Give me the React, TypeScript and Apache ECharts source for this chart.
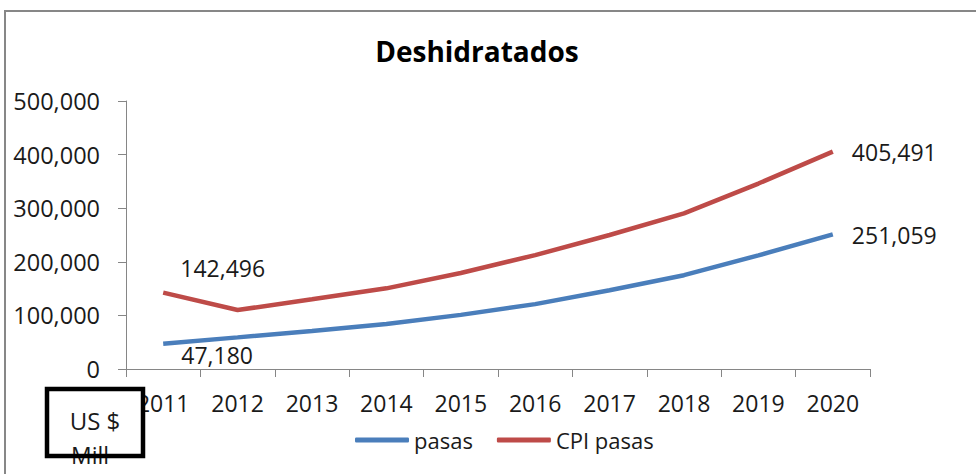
import React, { useEffect, useRef } from "react";
import * as echarts from "echarts";

const years = ["2011", "2012", "2013", "2014", "2015", "2016", "2017", "2018", "2019", "2020"];
const pasas = [47180, 59000, 71000, 84000, 101000, 121000, 147000, 175000, 212000, 251059];
const cpiPasas = [142496, 110000, 130000, 150500, 179000, 212500, 250000, 290500, 346000, 405491];
const yTicks = { min: 0, max: 500000, interval: 100000 };

const FONT = "'Open Sans', 'Noto Sans', sans-serif";
const fmt = (v: number) => v.toLocaleString("en-US");

function makeData(values: number[], firstOffset: number[], lastOffset: number[]) {
  return values.map((v, i) => {
    if (i === 0 || i === values.length - 1) {
      return {
        value: v,
        label: {
          show: true,
          position: "right",
          distance: 0,
          offset: i === 0 ? firstOffset : lastOffset,
          formatter: (p: any) => fmt(p.value),
          fontSize: 23,
          color: "#1a1a1a",
          fontFamily: FONT,
        },
      };
    }
    return { value: v };
  });
}

export default function App() {
  const ref = useRef<HTMLDivElement>(null);
  useEffect(() => {
    document.body.style.margin = "0";
    if (!ref.current) return;
    const chart = echarts.init(ref.current, undefined, { renderer: "svg" });
    chart.setOption({
      animation: false,
      textStyle: { fontFamily: FONT },
      title: {
        text: "Deshidratados",
        left: 472,
        textAlign: "center",
        top: 32,
        textStyle: { fontSize: 28, fontWeight: "bold", color: "#000", fontFamily: FONT },
      },
      legend: {
        left: 350,
        top: 424,
        icon: "roundRect",
        itemWidth: 54,
        itemHeight: 5,
        itemGap: 24,
        textStyle: { fontSize: 22, color: "#1a1a1a", fontFamily: FONT },
        data: ["pasas", "CPI pasas"],
      },
      grid: { left: 126, right: 106, top: 101, bottom: 105 },
      xAxis: {
        type: "category",
        data: years,
        boundaryGap: true,
        axisLine: { lineStyle: { color: "#868686", width: 1 } },
        axisTick: { show: true, length: 8, lineStyle: { color: "#868686" } },
        axisLabel: { fontSize: 23, color: "#1a1a1a", margin: 22, fontFamily: FONT },
        splitLine: { show: false },
      },
      yAxis: {
        type: "value",
        min: yTicks.min,
        max: yTicks.max,
        interval: yTicks.interval,
        axisLine: { show: true, lineStyle: { color: "#868686", width: 1 } },
        axisTick: { show: true, length: 8, lineStyle: { color: "#868686" } },
        axisLabel: { fontSize: 23.5, color: "#1a1a1a", margin: 26, formatter: (v: number) => fmt(v), fontFamily: FONT },
        splitLine: { show: false },
      },
      series: [
        {
          name: "pasas",
          type: "line",
          data: makeData(pasas, [18, 11], [19, 1]),
          symbol: "circle",
          symbolSize: 0.1,
          showSymbol: true,
          lineStyle: { color: "#4A7EBB", width: 4.5 },
          itemStyle: { color: "#4A7EBB" },
        },
        {
          name: "CPI pasas",
          type: "line",
          data: makeData(cpiPasas, [17, -25], [19, 0]),
          symbol: "circle",
          symbolSize: 0.1,
          showSymbol: true,
          lineStyle: { color: "#BE4B48", width: 4.5 },
          itemStyle: { color: "#BE4B48" },
        },
      ],
      graphic: [
        {
          type: "rect",
          z: 100,
          shape: { x: 5, y: 11, width: 1000, height: 500 },
          style: { fill: "none", stroke: "#878787", lineWidth: 2 },
          silent: true,
        },
        {
          type: "rect",
          z: 100,
          shape: { x: 47, y: 389, width: 96, height: 67 },
          style: { fill: "#fff", stroke: "none" },
        },
        {
          type: "text",
          z: 101,
          x: 95,
          y: 420,
          style: {
            text: "US $",
            fontSize: 24,
            fontFamily: FONT,
            fill: "#1a1a1a",
            textAlign: "center",
            textVerticalAlign: "middle",
          },
        },
        {
          type: "text",
          z: 101,
          x: 90,
          y: 455,
          style: {
            text: "Mill",
            fontSize: 23,
            fontFamily: FONT,
            fill: "#1a1a1a",
            textAlign: "center",
            textVerticalAlign: "middle",
          },
        },
        {
          type: "rect",
          z: 102,
          shape: { x: 47, y: 389, width: 96, height: 67 },
          style: { fill: "none", stroke: "#000", lineWidth: 4.5 },
        },
      ],
    });
    return () => chart.dispose();
  }, []);
  return <div ref={ref} style={{ width: 976, height: 474 }} />;
}
